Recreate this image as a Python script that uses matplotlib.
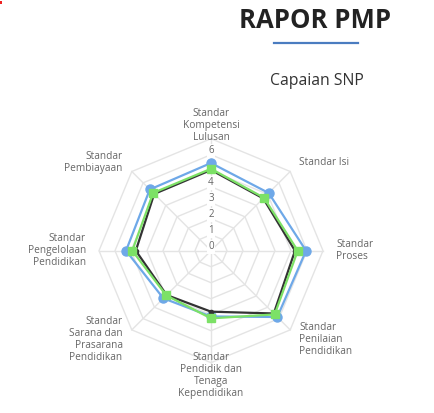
import numpy as np
import matplotlib
matplotlib.use("Agg")
import matplotlib.pyplot as plt
from matplotlib.lines import Line2D
from matplotlib.patches import Rectangle

plt.rcParams['font.family'] = ['Open Sans', 'DejaVu Sans']

categories = ["Standar\nKompetensi\nLulusan", "Standar Isi", "Standar\nProses",
              "Standar\nPenilaian\nPendidikan", "Standar\nPendidik dan\nTenaga\nKependidikan",
              "Standar\nSarana dan\nPrasarana\nPendidikan", "Standar\nPengelolaan\nPendidikan",
              "Standar\nPembiayaan"]
series_blue = [5.48, 5.10, 5.94, 5.86, 4.11, 4.21, 5.31, 5.41]
series_black = [5.05, 4.62, 5.25, 5.55, 3.81, 3.92, 4.70, 5.02]
series_green = [5.12, 4.68, 5.42, 5.63, 4.23, 3.95, 4.92, 5.11]
tick_values = [0, 1, 2, 3, 4, 5, 6]
ring_values = [1, 2, 3, 4, 5, 6, 7]
r_max = 7

W, H = 435, 413
fig = plt.figure(figsize=(W / 100, H / 100), dpi=100)
fig.patch.set_facecolor('white')

cx, cy, R = 211, 250.7, 112
ax = fig.add_axes([(cx - R) / W, 1 - (cy + R) / H, 2 * R / W, 2 * R / H], projection='polar')
ax.set_theta_offset(np.pi / 2)
ax.set_theta_direction(-1)
ax.set_ylim(0, r_max)
ax.grid(False)
ax.spines['polar'].set_visible(False)
ax.set_xticks([])
ax.set_yticks([])
ax.patch.set_alpha(0)

n = len(categories)
angles = np.arange(n) * 2 * np.pi / n
closed = np.concatenate([angles, angles[:1]])

grid_col = '#e4e4e4'
for v in ring_values:
    ax.plot(closed, [v] * (n + 1), color=grid_col, lw=1, zorder=1, clip_on=False)
for a in angles:
    ax.plot([a, a], [0, r_max], color=grid_col, lw=1, zorder=1, clip_on=False)

for v in tick_values:
    ax.text(0, v + 0.25, str(v), ha='center', va='center', fontsize=7, color='#666666',
            zorder=2, bbox=dict(boxstyle='square,pad=0.15', fc='white', ec='none'))

pad = 13
for a, lab in zip(angles, categories):
    dx, dy = pad * np.sin(a), pad * np.cos(a)
    s = np.sin(a)
    if abs(s) < 1e-6:
        ha = 'center'
    elif s > 0:
        ha = 'left'
    else:
        ha = 'right'
    ax.annotate(lab, xy=(a, r_max), xytext=(dx, dy), textcoords='offset pixels',
                ha=ha, va='center', fontsize=7.3, color='#666666', multialignment=ha,
                linespacing=1.12, annotation_clip=False)

def draw(vals, color, marker, ms, z):
    v = list(vals) + [vals[0]]
    ax.plot(closed, v, color=color, lw=1.6, zorder=z, clip_on=False)
    ax.plot(angles, vals, ls='none', marker=marker, ms=ms, color=color,
            markeredgecolor=color, zorder=z + 0.5, clip_on=False)

draw(series_blue, '#6ea8e8', 'o', 6.5, 3)
draw(series_black, '#333333', 'o', 3, 4)
draw(series_green, '#7ce166', 's', 5.8, 5)

fig.text(315 / W, 1 - 21 / H, "RAPOR PMP", ha='center', va='center', fontsize=18.5,
         fontweight='bold', color='#222222')
fig.add_artist(Line2D([274 / W, 358 / W], [1 - 43.3 / H, 1 - 43.3 / H],
                      color='#4a7cc0', lw=1.6, transform=fig.transFigure))
fig.text(317 / W, 1 - 81 / H, "Capaian SNP", ha='center', va='center', fontsize=11.3,
         color='#333333')
fig.add_artist(Rectangle((0, 1 - 4 / H), 2 / W, 3 / H, transform=fig.transFigure,
                         color='#ee2222', lw=0))

fig.savefig('out.png', dpi=100, facecolor='white')
